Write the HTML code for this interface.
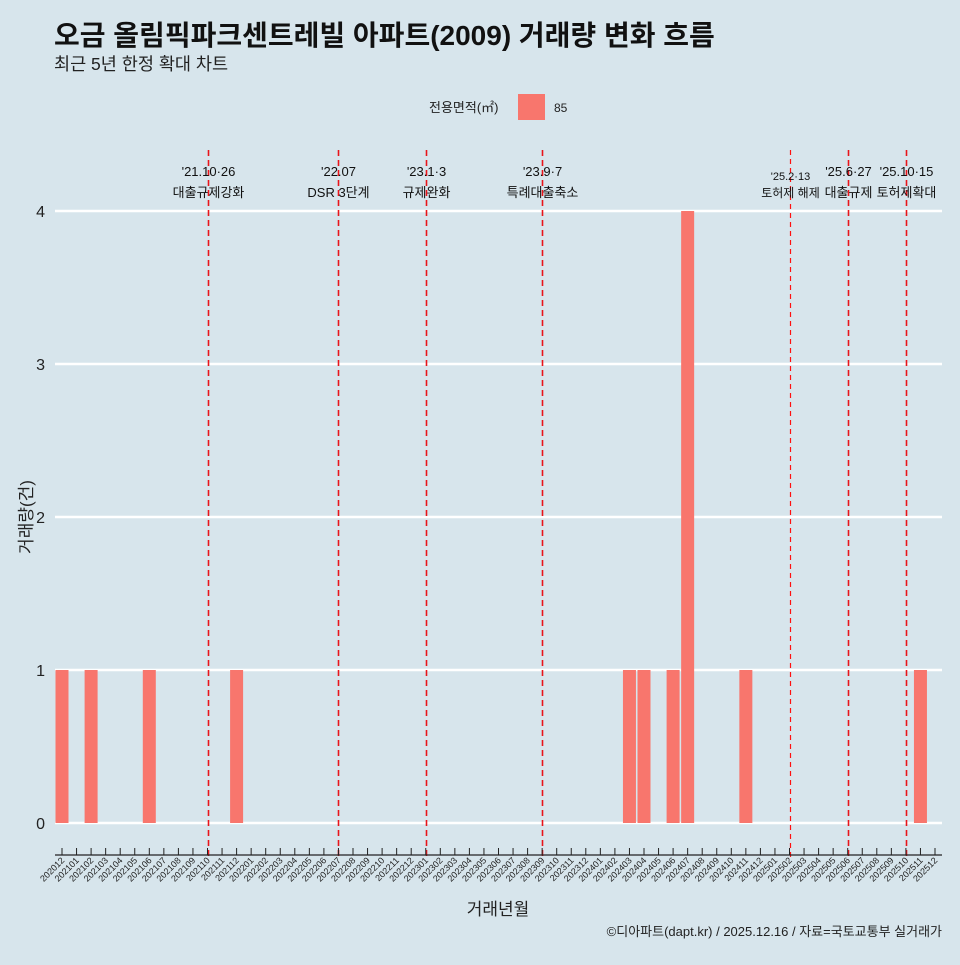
<!DOCTYPE html>
<html><head><meta charset="utf-8"><style>
body{margin:0;background:#d7e5ec;}
svg text{font-family:"Liberation Sans","Noto Sans CJK KR",sans-serif;}
</style></head><body>
<svg id="chart" width="960" height="960" xmlns="http://www.w3.org/2000/svg">
<rect width="960" height="960" fill="#d7e5ec"/>
<text x="54" y="45" font-size="28" font-weight="bold" fill="#111">오금 올림픽파크센트레빌 아파트(2009) 거래량 변화 흐름</text>
<text x="54" y="70" font-size="17.5" fill="#222">최근 5년 한정 확대 차트</text>
<g>
<text x="429" y="112" font-size="13" fill="#222">전용면적(㎡)</text>
<rect x="518" y="94" width="27" height="26" fill="#f8766d"/>
<text x="554" y="112" font-size="12" fill="#222">85</text>
</g>
<g id="grid"></g><g id="bars"></g><g id="events"></g><g id="xaxis"></g><g id="yaxis"></g>
<text transform="translate(32,517) rotate(-90)" text-anchor="middle" font-size="17" fill="#222">거래량(건)</text>
<text x="498" y="915" text-anchor="middle" font-size="17" fill="#222">거래년월</text>
<text x="942" y="936" text-anchor="end" font-size="13" fill="#222">©디아파트(dapt.kr) / 2025.12.16 / 자료=국토교통부 실거래가</text>
</svg>
<script>
const categories=[];for(let y=2020;y<=2025;y++)for(let m=1;m<=12;m++){if(y===2020&&m<12)continue;categories.push(y+String(m).padStart(2,'0'));}
const barMonths=["202012","202102","202106","202112","202403","202404","202406","202407","202411","202511"];
const barValues=[1,1,1,1,1,1,1,4,1,1];
const yTicks=[0,1,2,3,4];
const eventMonths=["202110","202207","202301","202309","202502","202506","202510"];
const eventDates=["'21.10·26","'22.07","'23.1·3","'23.9·7","'25.2·13","'25.6·27","'25.10·15"];
const eventLabels=["대출규제강화","DSR 3단계","규제완화","특례대출축소","토허제 해제","대출규제","토허제확대"];
const NS="http://www.w3.org/2000/svg";
const x0=62,step=(935-62)/60,bw=13;
function xs(c){return x0+categories.indexOf(c)*step;}
function ys(v){return 823-v*153;}
function mk(tag,attrs,parent){const e=document.createElementNS(NS,tag);for(const k in attrs)e.setAttribute(k,attrs[k]);document.getElementById(parent).appendChild(e);return e;}
yTicks.forEach(t=>{
 const l=mk('line',{x1:55,x2:942,y1:ys(t),y2:ys(t),stroke:'#fff','stroke-width':2.6},'grid');
 
 
 const tx=mk('text',{x:45,y:ys(t)+6,'text-anchor':'end','font-size':16,fill:'#222'},'yaxis');tx.textContent=t;
 
 
});
barMonths.forEach((c,i)=>{
 const r=mk('rect',{x:xs(c)-bw/2,y:ys(barValues[i]),width:bw,height:ys(0)-ys(barValues[i]),fill:'#f8766d'},'bars');
 
 
});
eventMonths.forEach((c,i)=>{
 const x=Math.round(xs(c))+0.5,thin=c==="202502";
 const l=mk('line',{x1:x,x2:x,y1:150,y2:858,stroke:thin?'#ff1010':'#e8141a','stroke-width':thin?1.2:1.6,'stroke-dasharray':thin?'5,4':'6,4'},'events');
 
 
 const fs=thin?11:13;
 const d=mk('text',{x:x,y:thin?180:176,'text-anchor':'middle','font-size':fs,fill:'#111'},'events');d.textContent=eventDates[i];
 
 
 const t=mk('text',{x:x,y:197,'text-anchor':'middle','font-size':thin?12:13,fill:'#111'},'events');t.textContent=eventLabels[i];
 
 
});
const ax=mk('line',{x1:55,x2:942,y1:855,y2:855,stroke:'#222','stroke-width':1.2},'xaxis');


categories.forEach(c=>{
 const x=xs(c);
 mk('line',{x1:x,x2:x,y1:848,y2:855,stroke:'#222','stroke-width':1},'xaxis');
 const t=mk('text',{transform:`translate(${x+3},861) rotate(-45)`,'text-anchor':'end','font-size':9,fill:'#222'},'xaxis');t.textContent=c;
 
 
});
</script>
</body></html>
